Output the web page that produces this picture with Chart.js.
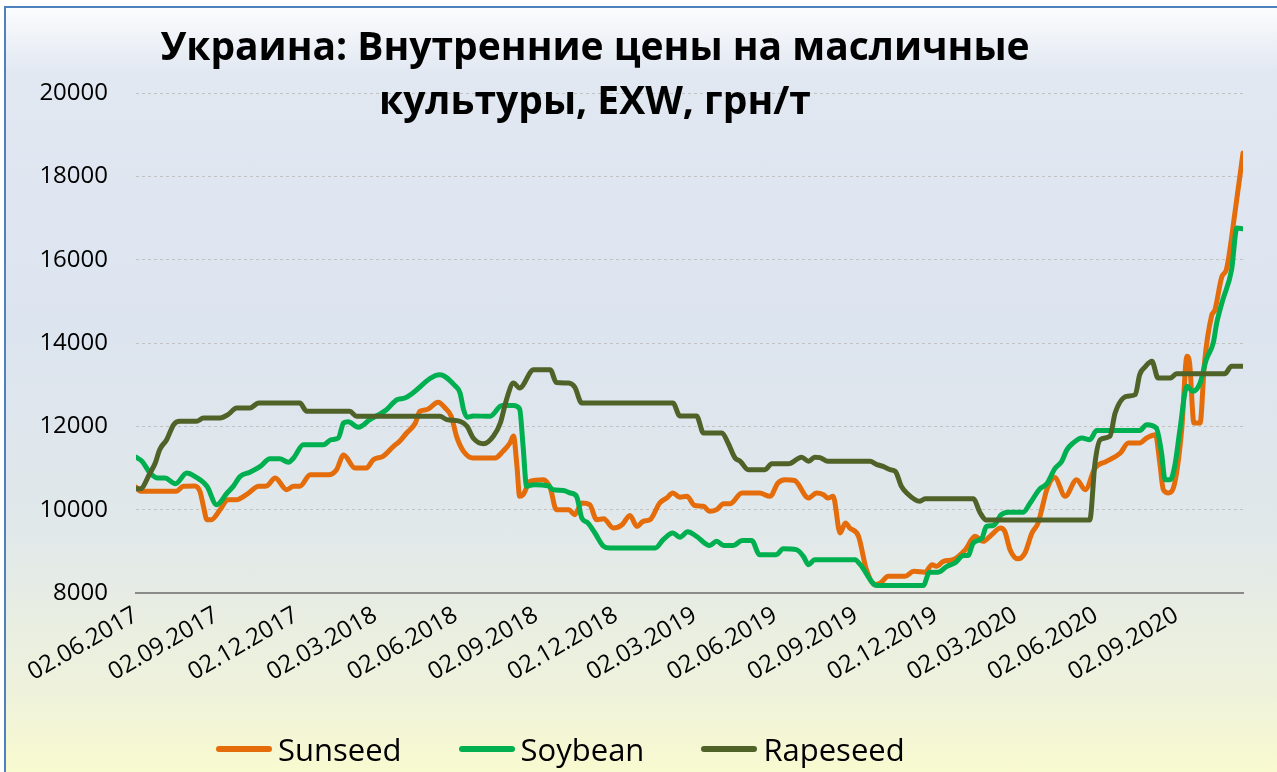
<!DOCTYPE html>
<html>
<head>
<meta charset="utf-8">
<script src="https://cdn.jsdelivr.net/npm/chart.js@4.4.1/dist/chart.umd.min.js"></script>
<style>
  html, body { margin: 0; padding: 0; background: #fff; overflow: hidden; }
  #frame {
    position: absolute; left: 4px; top: 6px; width: 1300px; height: 800px;
    border-left: 2px solid #4f81bd; border-top: 2px solid #4f81bd;
    background: linear-gradient(to bottom, #fbfcfd 0%, #e2e8f2 8%, #dce4ef 40%, #e1e8ea 65%, #eef2dc 85%, #fdfdca 100%);
  }
  #chart { position: absolute; left: 0; top: 0; }
  #title {
    position: absolute; left: 595px; top: 18px; transform: translateX(-50%);
    font-family: "Open Sans", sans-serif; font-weight: bold; font-size: 39px;
    line-height: 54px; text-align: center; white-space: nowrap; color: #000;
  }
  #legend {
    position: absolute; left: 216px; top: 728px; display: flex; align-items: center;
    font-family: "Open Sans", sans-serif; font-size: 31px; color: #000;
  }
  #legend .item { display: flex; align-items: center; margin-right: 57px; }
  #legend .swatch { width: 56px; height: 6px; border-radius: 3px; margin-right: 6px; }
</style>
</head>
<body>
<div id="frame"></div>
<canvas id="chart" width="1277" height="772"></canvas>
<div id="title">Украина: Внутренние цены на масличные<br>культуры, EXW, грн/т</div>
<div id="legend"></div>
<script>
// ── Данные: [день от 02.06.2017, грн/т] ─────
const startDate  = [2017, 6, 2];
const tickLabels = ['02.06.2017','02.09.2017','02.12.2017','02.03.2018','02.06.2018','02.09.2018','02.12.2018',
                    '02.03.2019','02.06.2019','02.09.2019','02.12.2019','02.03.2020','02.06.2020','02.09.2020'];
const seriesNames  = ['Sunseed', 'Soybean', 'Rapeseed'];
const seriesColors = ['#e46c0a', '#00b050', '#4f6228'];

const sunseed = [
  [0,10540],[5,10440],[46,10440],[54,10560],[67,10570],[73,10440],[77,10080],[81,9760],[86,9760],[96,10000],
  [105,10240],[115,10240],[126,10360],[140,10560],[149,10570],[159,10760],[172,10480],[180,10560],[187,10560],
  [199,10840],[220,10840],[229,10960],[237,11310],[250,11000],[263,11000],[271,11200],[282,11280],[294,11520],
  [301,11640],[309,11840],[319,12080],[324,12360],[332,12400],[345,12580],[353,12440],[360,12240],[366,11760],
  [374,11400],[385,11240],[410,11240],[419,11400],[427,11600],[431,11770],[435,11040],[438,10320],[442,10360],
  [450,10680],[465,10720],[473,10520],[480,10000],[494,10000],[501,9880],[509,10160],[518,10120],[526,9760],
  [534,9780],[545,9560],[555,9640],[564,9860],[572,9600],[579,9720],[587,9760],[598,10160],[606,10280],[613,10400],
  [621,10300],[629,10320],[638,10100],[648,10080],[655,9960],[663,10000],[671,10140],[678,10140],[692,10400],
  [712,10400],[724,10320],[733,10640],[741,10720],[752,10700],[768,10280],[777,10400],[785,10360],[790,10280],
  [796,10320],[804,9440],[810,9680],[815,9560],[825,9360],[834,8560],[844,8200],[850,8240],[859,8400],[878,8400],
  [888,8520],[901,8500],[909,8680],[914,8640],[922,8760],[933,8800],[947,9040],[958,9360],[967,9240],[977,9400],
  [987,9560],[992,9480],[998,9040],[1007,8820],[1015,8960],[1023,9440],[1030,9680],[1036,10160],[1040,10480],
  [1049,10770],[1061,10320],[1074,10720],[1084,10480],[1095,11000],[1108,11160],[1124,11360],[1133,11600],
  [1146,11600],[1154,11720],[1164,11800],[1169,11120],[1173,10480],[1179,10400],[1186,10640],[1194,11920],
  [1200,13680],[1203,13520],[1208,12080],[1215,12080],[1220,13520],[1228,14640],[1232,14800],[1240,15600],
  [1245,15760],[1255,17160],[1264,18560]
];

const soybean = [
  [0,11260],[7,11160],[16,10880],[25,10760],[33,10760],[45,10620],[58,10880],[67,10800],[81,10560],[92,10120],
  [104,10400],[111,10560],[119,10800],[130,10900],[142,11040],[153,11220],[164,11220],[174,11140],[180,11240],
  [191,11560],[214,11560],[223,11680],[231,11720],[237,12080],[242,12110],[254,11980],[267,12160],[286,12400],
  [298,12640],[307,12680],[347,13240],[364,12980],[370,12800],[374,12400],[378,12220],[385,12250],[404,12240],
  [418,12500],[431,12500],[438,12420],[442,11520],[446,10560],[454,10600],[471,10570],[476,10480],[488,10460],
  [496,10400],[503,10320],[509,9800],[516,9680],[524,9440],[534,9120],[541,9080],[593,9080],[602,9280],[613,9440],
  [621,9340],[630,9470],[640,9360],[655,9140],[663,9240],[671,9140],[682,9140],[692,9260],[703,9260],[712,8920],
  [731,8920],[739,9060],[754,9040],[762,8880],[768,8680],[775,8800],[821,8800],[827,8680],[846,8180],[899,8180],
  [906,8500],[916,8500],[926,8640],[935,8720],[945,8900],[950,8900],[956,9200],[966,9320],[971,9600],[979,9620],
  [988,9880],[996,9940],[1013,9940],[1021,10160],[1032,10500],[1040,10620],[1049,10980],[1057,11160],[1063,11440],
  [1070,11600],[1080,11720],[1089,11680],[1097,11900],[1146,11900],[1154,12040],[1165,11960],[1171,11360],
  [1175,10720],[1181,10720],[1186,11040],[1192,11920],[1200,12960],[1207,12840],[1215,13040],[1222,13600],
  [1230,14000],[1234,14480],[1241,15040],[1251,15760],[1257,16760],[1264,16740]
];

const rapeseed = [
  [0,10500],[5,10500],[16,10880],[22,11120],[27,11440],[35,11680],[43,12040],[50,12120],[69,12120],[77,12200],
  [96,12200],[105,12280],[115,12440],[130,12440],[140,12560],[187,12560],[195,12360],[244,12360],[252,12240],
  [347,12240],[355,12160],[370,12120],[378,12000],[385,11720],[397,11580],[408,11760],[416,12080],[423,12640],
  [431,13040],[438,12920],[454,13360],[473,13360],[480,13050],[494,13040],[501,12940],[509,12560],[613,12560],
  [621,12250],[640,12250],[648,11840],[669,11840],[676,11600],[684,11240],[690,11160],[699,10960],[718,10960],
  [726,11100],[745,11100],[760,11260],[768,11160],[775,11260],[781,11250],[790,11160],[838,11160],[846,11080],
  [853,11040],[861,10960],[867,10920],[874,10560],[880,10400],[895,10200],[901,10260],[956,10260],[964,9920],
  [971,9750],[1089,9750],[1095,11120],[1101,11680],[1112,11760],[1118,12320],[1131,12720],[1141,12760],
  [1146,13240],[1152,13420],[1160,13560],[1167,13160],[1181,13160],[1188,13260],[1243,13260],[1251,13440],
  [1264,13440]
];

// ── Вспомогательное ─────
const dayOf = s => {
  const [d, m, y] = s.split('.').map(Number);
  return Math.round((Date.UTC(y, m - 1, d) - Date.UTC(startDate[0], startDate[1] - 1, startDate[2])) / 86400000);
};
const tickDays = tickLabels.map(dayOf);
const lastDay  = sunseed[sunseed.length - 1][0];
const axisFont = { family: '"Open Sans", sans-serif', size: 24 };

const chart = new Chart(document.getElementById('chart'), {
  type: 'line',
  data: {
    datasets: [sunseed, soybean, rapeseed].map((d, i) => ({
      label: seriesNames[i],
      data: d,
      borderColor: seriesColors[i],
      backgroundColor: seriesColors[i],
      order: 3 - i,
    }))
  },
  options: {
    responsive: false,
    animation: false,
    devicePixelRatio: 1,
    layout: { padding: { top: 93, right: 34, left: 0, bottom: 0 } },
    elements: {
      point: { radius: 0 },
      line: { borderWidth: 5, borderCapStyle: 'round', borderJoinStyle: 'round', cubicInterpolationMode: 'monotone' }
    },
    plugins: { legend: { display: false }, tooltip: { enabled: false } },
    scales: {
      x: {
        type: 'linear', min: 0, max: lastDay,
        grid: { display: false, drawTicks: false },
        border: { display: true, color: '#8a8a8a', width: 2 },
        ticks: {
          font: axisFont, color: '#000', minRotation: 30, maxRotation: 30, padding: 8, autoSkip: false,
          callback: v => tickLabels[tickDays.indexOf(v)] ?? ''
        },
        afterBuildTicks: s => { s.ticks = tickDays.map(v => ({ value: v })); },
        afterFit: s => { s.height = 179; }
      },
      y: {
        min: 8000, max: 20000,
        grid: { color: '#c2c2c2', lineWidth: 1, drawTicks: false },
        border: { display: false, dash: [3, 3] },
        ticks: { stepSize: 2000, font: axisFont, color: '#000', padding: 28, callback: v => String(v) },
        afterFit: s => { s.width = 136; }
      }
    }
  }
});

// ── Leyenda HTML ─────
document.getElementById('legend').innerHTML = chart.data.datasets.map(ds =>
  `<div class="item"><span class="swatch" style="background:${ds.borderColor}"></span>${ds.label}</div>`
).join('');
</script>
</body>
</html>
